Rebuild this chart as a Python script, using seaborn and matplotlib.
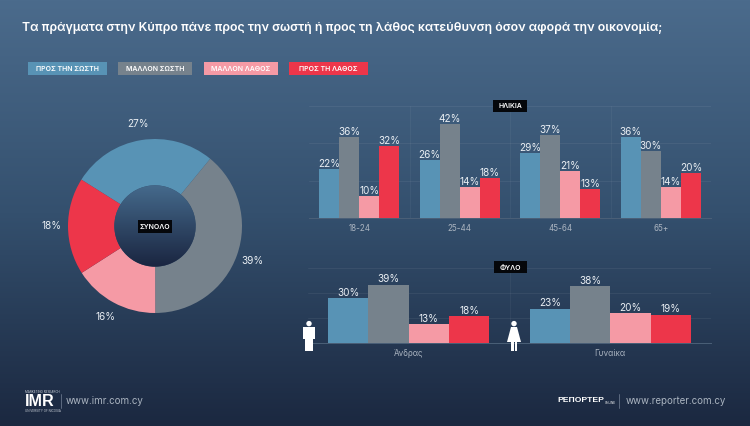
from __future__ import annotations

import matplotlib.pyplot as plt
import numpy as np
import pandas as pd
import seaborn as sns
from matplotlib.colors import LinearSegmentedColormap
from matplotlib.patches import Circle, Rectangle

WIDTH = 750
HEIGHT = 426
FONT = "Inter"
LIGHT = "#e9eef3"
MUTED = "#aab4c0"
CATEGORIES = ["ΠΡΟΣ ΤΗΝ ΣΩΣΤΗ", "ΜΑΛΛΟΝ ΣΩΣΤΗ", "ΜΑΛΛΟΝ ΛΑΘΟΣ", "ΠΡΟΣ ΤΗ ΛΑΘΟΣ"]
COLORS = ["#5893b5", "#76828c", "#f59aa5", "#ed364a"]


def _axes_px(fig: plt.Figure, left: float, top: float, right: float, bottom: float) -> plt.Axes:
    # Posiciona os eixos em pixels da imagem (origem no canto superior esquerdo).
    return fig.add_axes([left / WIDTH, 1 - bottom / HEIGHT, (right - left) / WIDTH, (bottom - top) / HEIGHT])


def _box(fig: plt.Figure, left: float, top: float, right: float, bottom: float, color: str, text: str, size: float) -> None:
    fig.add_artist(
        Rectangle(
            (left / WIDTH, 1 - bottom / HEIGHT),
            (right - left) / WIDTH,
            (bottom - top) / HEIGHT,
            transform=fig.transFigure,
            facecolor=color,
            linewidth=0,
        )
    )
    fig.text(
        (left + right) / 2 / WIDTH,
        1 - (top + bottom) / 2 / HEIGHT,
        text,
        color="white",
        fontsize=size,
        fontweight="semibold",
        ha="center",
        va="center_baseline",
    )


def _plot_background(fig: plt.Figure) -> None:
    ax = fig.add_axes([0, 0, 1, 1], zorder=-1)
    cmap = LinearSegmentedColormap.from_list("fundo", ["#4b6b8c", "#34506e", "#1b2840"])
    ax.imshow(np.linspace(0, 1, 256).reshape(-1, 1), aspect="auto", cmap=cmap)
    ax.axis("off")


def _plot_donut(fig: plt.Figure) -> None:
    ax = _axes_px(fig, 68, 139, 242, 313)
    values = [27, 39, 16, 18]
    # O primeiro setor comeca em 10 horas e segue no sentido horario.
    ax.pie(
        values,
        colors=COLORS,
        startangle=147.8,
        counterclock=False,
        radius=1,
        wedgeprops={"width": 0.532, "linewidth": 0},
        autopct="%d%%",
        pctdistance=1.19,
        textprops={"color": LIGHT, "fontsize": 7.2},
    )
    for text in ax.texts:
        text.set_clip_on(False)
    # Miolo com degrade proprio, mais claro em cima.
    cmap = LinearSegmentedColormap.from_list("miolo", ["#456a8c", "#1a2540"])
    image = ax.imshow(
        np.linspace(0, 1, 256).reshape(-1, 1),
        extent=(-0.47, 0.47, -0.47, 0.47),
        aspect="auto",
        cmap=cmap,
        zorder=3,
    )
    image.set_clip_path(Circle((0, 0), 0.467, transform=ax.transData))
    ax.set_xlim(-1, 1)
    ax.set_ylim(-1, 1)
    _box(fig, 138, 220, 172, 233, "#05070b", "ΣΥΝΟΛΟ", 5)


def _plot_groups(fig: plt.Figure, df: pd.DataFrame, box: tuple[int, int, int, int]) -> None:
    ax = _axes_px(fig, *box)
    sns.barplot(
        data=df,
        x="grupo",
        y="valor",
        hue="resposta",
        hue_order=CATEGORIES,
        palette=COLORS,
        saturation=1,
        width=0.8,
        gap=0,
        linewidth=0,
        legend=False,
        ax=ax,
    )
    for container in ax.containers:
        ax.bar_label(container, fmt="%d%%", color=LIGHT, fontsize=7.2, padding=0)
    ax.set_ylim(0, 50)
    ax.set_xlim(-0.5, df["grupo"].nunique() - 0.5)
    ax.set_yticks([0, 50 / 3, 100 / 3, 50])
    ax.set_xticks(np.arange(0.5, df["grupo"].nunique() - 0.5), minor=True)
    ax.set_xlabel("")
    ax.set_ylabel("")
    ax.set_yticklabels([])
    ax.set_facecolor("none")
    ax.grid(axis="y", color="white", alpha=0.06, linewidth=0.7)
    ax.grid(axis="x", which="major", visible=False)
    ax.grid(axis="x", which="minor", color="white", alpha=0.05, linewidth=0.6)
    ax.tick_params(axis="both", which="both", length=0)
    ax.tick_params(axis="x", colors=MUTED, labelsize=5.8, pad=4)
    sns.despine(ax=ax, left=True, top=True, right=True)
    ax.spines["bottom"].set_color("#4b6078")
    ax.spines["bottom"].set_linewidth(0.7)


def _plot_person(fig: plt.Figure, center: float, female: bool) -> None:
    ax = _axes_px(fig, center - 9, 320, center + 9, 352)
    ax.set_xlim(-9, 9)
    ax.set_ylim(32, 0)
    ax.axis("off")
    ax.add_patch(Circle((0, 3.6), 2.7, color="white", linewidth=0))
    if female:
        ax.fill([-3, 3, 7, -7], [7, 7, 22, 22], color="white", linewidth=0)
        ax.add_patch(Rectangle((-3, 22), 2.5, 9, color="white", linewidth=0))
        ax.add_patch(Rectangle((0.5, 22), 2.5, 9, color="white", linewidth=0))
    else:
        ax.add_patch(Rectangle((-6, 7), 12, 12, color="white", linewidth=0))
        ax.add_patch(Rectangle((-3.7, 19), 3.4, 12, color="white", linewidth=0))
        ax.add_patch(Rectangle((0.3, 19), 3.4, 12, color="white", linewidth=0))


def _plot_footer(fig: plt.Figure) -> None:
    fig.text(24.5 / WIDTH, 1 - 401.5 / HEIGHT, "IMR", color="white", fontsize=11.6, fontweight="bold", va="center", family="Liberation Sans")
    fig.text(25 / WIDTH, 1 - 392 / HEIGHT, "MARKETING RESEARCH", color="#c8ced6", fontsize=2.2, va="center")
    fig.text(25 / WIDTH, 1 - 410.5 / HEIGHT, "UNIVERSITY OF NICOSIA", color="#c8ced6", fontsize=2.2, va="center")
    fig.text(66 / WIDTH, 1 - 401 / HEIGHT, "www.imr.com.cy", color=MUTED, fontsize=7, va="center")
    fig.text(557 / WIDTH, 1 - 401 / HEIGHT, "ΡΕΠΟΡΤΕΡ", color="white", fontsize=6.1, fontweight="bold", va="center", family="Liberation Sans")
    fig.text(605 / WIDTH, 1 - 403.5 / HEIGHT, "ONLINE", color="white", fontsize=2.2, va="center")
    fig.text(626 / WIDTH, 1 - 401 / HEIGHT, "www.reporter.com.cy", color=MUTED, fontsize=7, va="center")
    for x in [61, 619]:
        fig.add_artist(plt.Line2D([x / WIDTH, x / WIDTH], [1 - 408 / HEIGHT, 1 - 394 / HEIGHT], color="#66748a", linewidth=0.6))


def run_charts() -> None:
    """Painel com o total em rosca e as respostas por idade e por sexo."""
    sns.set_theme(style="whitegrid", context="notebook")
    plt.rcParams["font.family"] = [FONT, "DejaVu Sans"]

    age = pd.DataFrame(
        {
            "grupo": ["18-24"] * 4 + ["25-44"] * 4 + ["45-64"] * 4 + ["65+"] * 4,
            "resposta": CATEGORIES * 4,
            "valor": [22, 36, 10, 32, 26, 42, 14, 18, 29, 37, 21, 13, 36, 30, 14, 20],
        }
    )
    gender = pd.DataFrame(
        {
            "grupo": ["Άνδρας"] * 4 + ["Γυναίκα"] * 4,
            "resposta": CATEGORIES * 2,
            "valor": [30, 39, 13, 18, 23, 38, 20, 19],
        }
    )

    fig = plt.figure(figsize=(WIDTH / 100, HEIGHT / 100), dpi=100)
    _plot_background(fig)
    fig.text(
        22 / WIDTH,
        1 - 28 / HEIGHT,
        "Τα πράγματα στην Κύπρο πάνε προς την σωστή ή προς τη λάθος κατεύθυνση όσον αφορά την οικονομία;",
        color="white",
        fontsize=8.9,
        fontweight="semibold",
        va="center",
    )
    legend_boxes = [(28, 107), (118, 192), (204, 278), (289, 368)]
    for (left, right), label, color in zip(legend_boxes, CATEGORIES, COLORS):
        _box(fig, left, 62, right, 75, color, label, 5)

    _plot_donut(fig)
    _plot_groups(fig, age, (309, 106, 711, 218))
    _plot_groups(fig, gender, (308, 268, 711, 343))
    _box(fig, 493, 100, 527, 112, "#05070b", "ΗΛΙΚΙΑ", 5)
    _box(fig, 494, 261, 527, 273, "#05070b", "ΦΥΛΟ", 5)
    _plot_person(fig, 309, False)
    _plot_person(fig, 514, True)
    _plot_footer(fig)

    plt.savefig("out.png", dpi=100)
    plt.close()


run_charts()
